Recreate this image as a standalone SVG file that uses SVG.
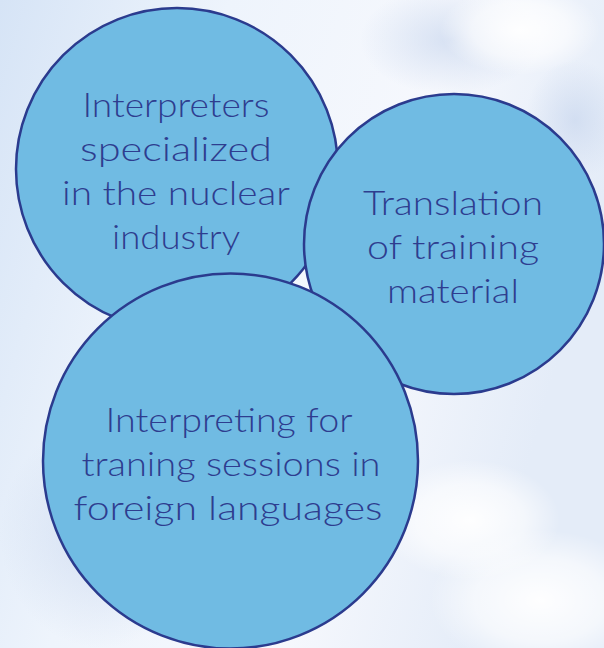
<svg xmlns="http://www.w3.org/2000/svg" width="604" height="648" viewBox="0 0 604 648">
<defs>
<linearGradient id="bg" x1="0" y1="0" x2="1" y2="0.3">
<stop offset="0" stop-color="#d6e4f6"/>
<stop offset="0.35" stop-color="#eef4fc"/>
<stop offset="0.7" stop-color="#f6f8fd"/>
<stop offset="1" stop-color="#e4ecf8"/>
</linearGradient>
<radialGradient id="cloud" cx="0.5" cy="0.5" r="0.5">
<stop offset="0" stop-color="#ffffff" stop-opacity="0.95"/>
<stop offset="0.6" stop-color="#ffffff" stop-opacity="0.6"/>
<stop offset="1" stop-color="#ffffff" stop-opacity="0"/>
</radialGradient>
<radialGradient id="shade" cx="0.5" cy="0.5" r="0.5">
<stop offset="0" stop-color="#c9d7ee" stop-opacity="0.7"/>
<stop offset="1" stop-color="#c9d7ee" stop-opacity="0"/>
</radialGradient>
<style>
.node circle { fill: #70bbe3; stroke: #2b3b8e; stroke-width: 2.5; }
.node text { font-family: Lato, "Open Sans", "Noto Sans", sans-serif; font-weight: 300; font-size: 33px; fill: #2e3d8f; text-anchor: middle; }
</style>
</defs>
<rect width="604" height="648" fill="url(#bg)"/>
<rect x="0" y="420" width="200" height="228" fill="url(#shade)"/>
<ellipse cx="450" cy="40" rx="90" ry="55" fill="url(#shade)"/>
<ellipse cx="520" cy="30" rx="80" ry="45" fill="url(#cloud)"/>
<ellipse cx="575" cy="120" rx="50" ry="60" fill="url(#shade)"/>
<ellipse cx="540" cy="600" rx="110" ry="70" fill="url(#cloud)"/>
<ellipse cx="470" cy="520" rx="90" ry="60" fill="url(#cloud)"/>

<g id="node-interpreters" class="node">
<circle cx="177" cy="169" r="161"/>
<text x="176" y="117" textLength="187" lengthAdjust="spacingAndGlyphs">Interpreters</text>
<text x="176" y="161" textLength="192" lengthAdjust="spacingAndGlyphs">specialized</text>
<text x="176" y="205" textLength="228" lengthAdjust="spacingAndGlyphs">in the nuclear</text>
<text x="176" y="249" textLength="128" lengthAdjust="spacingAndGlyphs">industry</text>
</g>
<g id="node-translation" class="node">
<circle cx="454" cy="244" r="150"/>
<text x="453" y="215" textLength="180" lengthAdjust="spacingAndGlyphs">Translation</text>
<text x="453" y="259" textLength="172" lengthAdjust="spacingAndGlyphs">of training</text>
<text x="453" y="303" textLength="132" lengthAdjust="spacingAndGlyphs">material</text>
</g>
<g id="node-interpreting" class="node">
<circle cx="230.5" cy="461" r="187.5"/>
<text x="229" y="432" textLength="247" lengthAdjust="spacingAndGlyphs">Interpreting for</text>
<text x="231" y="476" textLength="299" lengthAdjust="spacingAndGlyphs">traning sessions in</text>
<text x="228" y="520" textLength="309" lengthAdjust="spacingAndGlyphs">foreign languages</text>
</g>
<g id="connectors"></g>
</svg>
